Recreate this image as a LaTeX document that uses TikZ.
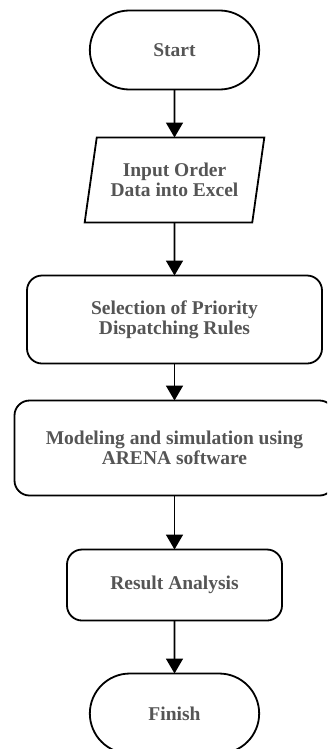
\documentclass[tikz,border=0pt]{standalone}
\usepackage{fontspec}
\setmainfont{Liberation Serif}
\usetikzlibrary{positioning,shapes.geometric,shapes.misc,arrows.meta}
\definecolor{txtgray}{HTML}{555555}

\tikzset{
	base/.style={draw, line width=1.8pt, align=center, outer sep=0pt, text=txtgray,
		font=\bfseries\fontsize{19.5}{20}\selectfont},
	terminal/.style={base, rounded rectangle, minimum width=176pt, minimum height=79pt},
	io/.style={base, trapezium, trapezium left angle=75.5, trapezium right angle=104.5,
		trapezium stretches=true, minimum width=180pt, minimum height=85pt},
	process/.style={base, rectangle, rounded corners=15pt},
	flow/.style={line width=1.8pt, -{Triangle[width=17pt,length=15pt]}},
}

\begin{document}
\begin{tikzpicture}[x=1pt, y=1pt]
	\clip (0,0) rectangle (327,-749);
	\useasboundingbox (0,0) rectangle (327,-749);

	\node[terminal] (start) at (174.5,-50) {Start};
	\node[io, below=48pt of start] (input) {Input Order\\Data into Excel};
	\node[process, below=53pt of input, minimum width=295pt, minimum height=88pt] (rules)
		{Selection of Priority\\Dispatching Rules};
	\node[process, below=37pt of rules, minimum width=320pt, minimum height=95pt] (model)
		{Modeling and simulation using\\ARENA software};
	\node[process, below=54pt of model, minimum width=215pt, minimum height=71pt] (result)
		{Result Analysis};
	\node[terminal, below=53pt of result, minimum height=80pt] (finish) {Finish};

	\draw[flow] (start) -- (input);
	\draw[flow] (input) -- (rules);
	\draw[flow] (rules) -- (model);
	\draw[flow] (model) -- (result);
	\draw[flow] (result) -- (finish);
\end{tikzpicture}
\end{document}
